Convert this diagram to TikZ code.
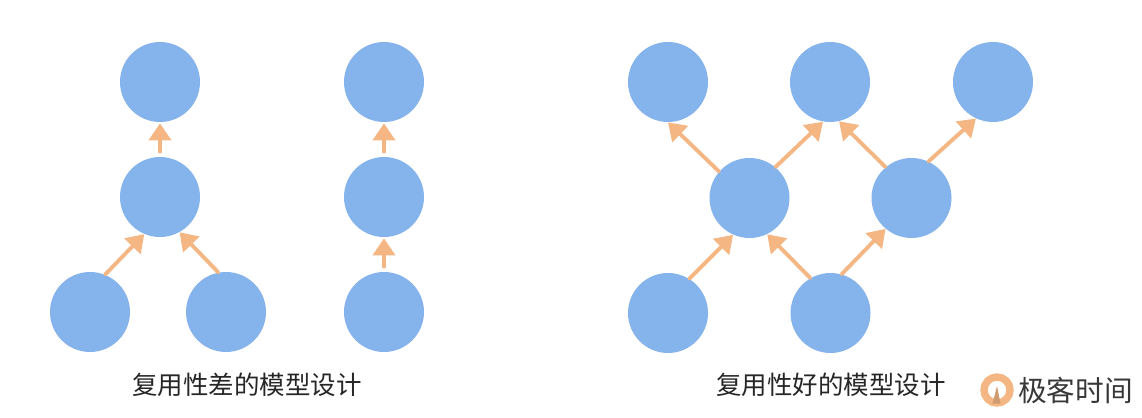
\documentclass[tikz,border=0pt]{standalone}
\usepackage{fontspec}
\setmainfont{Noto Sans CJK SC}
\usetikzlibrary{arrows.meta,calc}
\definecolor{nodeblue}{HTML}{85B3EC}
\definecolor{arroworange}{HTML}{F4B784}

\begin{document}
\begin{tikzpicture}[
  layer/.style={circle, fill=nodeblue, inner sep=0pt, minimum size=1.6cm},
  arrow/.style={-{Triangle[length=3.4mm, width=4.4mm]}, arroworange, line width=2.2pt, line cap=round},
  caption/.style={font=\fontsize{14.5pt}{16pt}\selectfont, text=black!85},
]
\useasboundingbox (0,0) rectangle (22.84,8.34);

% === POOR REUSE (left) ===
\node[layer] (a3) at (3.2,6.7) {};
\node[layer] (a2) at (3.2,4.4) {};
\node[layer] (a1l) at (1.8,2.1) {};
\node[layer] (a1r) at (4.52,2.1) {};
\node[layer] (b3) at (7.68,6.7) {};
\node[layer] (b2) at (7.68,4.4) {};
\node[layer] (b1) at (7.68,2.1) {};

\draw[arrow] ($(a2.north)+(0,0.1)$) -- ($(a3.south)+(0,-0.02)$);
\draw[arrow] (a1l.68) -- (a2.247);
\draw[arrow] (a1r.101) -- (a2.299);
\draw[arrow] ($(b2.north)+(0,0.1)$) -- ($(b3.south)+(0,-0.02)$);
\draw[arrow] ($(b1.north)+(0,0.1)$) -- ($(b2.south)+(0,-0.02)$);

\node[caption] (capa) at (4.94,0.64) {复用性差的模型设计};

% === GOOD REUSE (right) ===
\node[layer] (c3l) at (13.36,6.7) {};
\node[layer] (c3m) at (16.6,6.7) {};
\node[layer] (c3r) at (19.86,6.7) {};
\node[layer] (c2l) at (14.99,4.38) {};
\node[layer] (c2r) at (18.23,4.38) {};
\node[layer] (c1l) at (13.36,2.08) {};
\node[layer] (c1r) at (16.61,2.08) {};

\draw[arrow] (c1l.58) -- (c2l.246);
\draw[arrow] (c1r.120) -- (c2l.296);
\draw[arrow] (c1r.74) -- (c2r.230);
\draw[arrow] (c2l.139) -- (c3l.270);
\draw[arrow] (c2l.50) -- (c3m.260);
\draw[arrow] (c2r.130) -- (c3m.283);
\draw[arrow] (c2r.65) -- (c3r.245);

\node[caption] (capb) at (16.62,0.64) {复用性好的模型设计};

% === LOGO ===
\node[circle, draw=arroworange, line width=4.2pt, inner sep=0pt, minimum size=0.52cm] (logo) at (19.94,0.54) {};
\fill[arroworange!85!black] ($(logo.center)+(-0.09,-0.27)$) -- ($(logo.center)+(0.0,0.08)$) -- ($(logo.center)+(0.07,-0.27)$) -- cycle;
\node[font=\fontsize{16.3pt}{18pt}\selectfont, text=black!78, anchor=west] (brand) at (20.24,0.54) {极客时间};
\end{tikzpicture}
\end{document}
